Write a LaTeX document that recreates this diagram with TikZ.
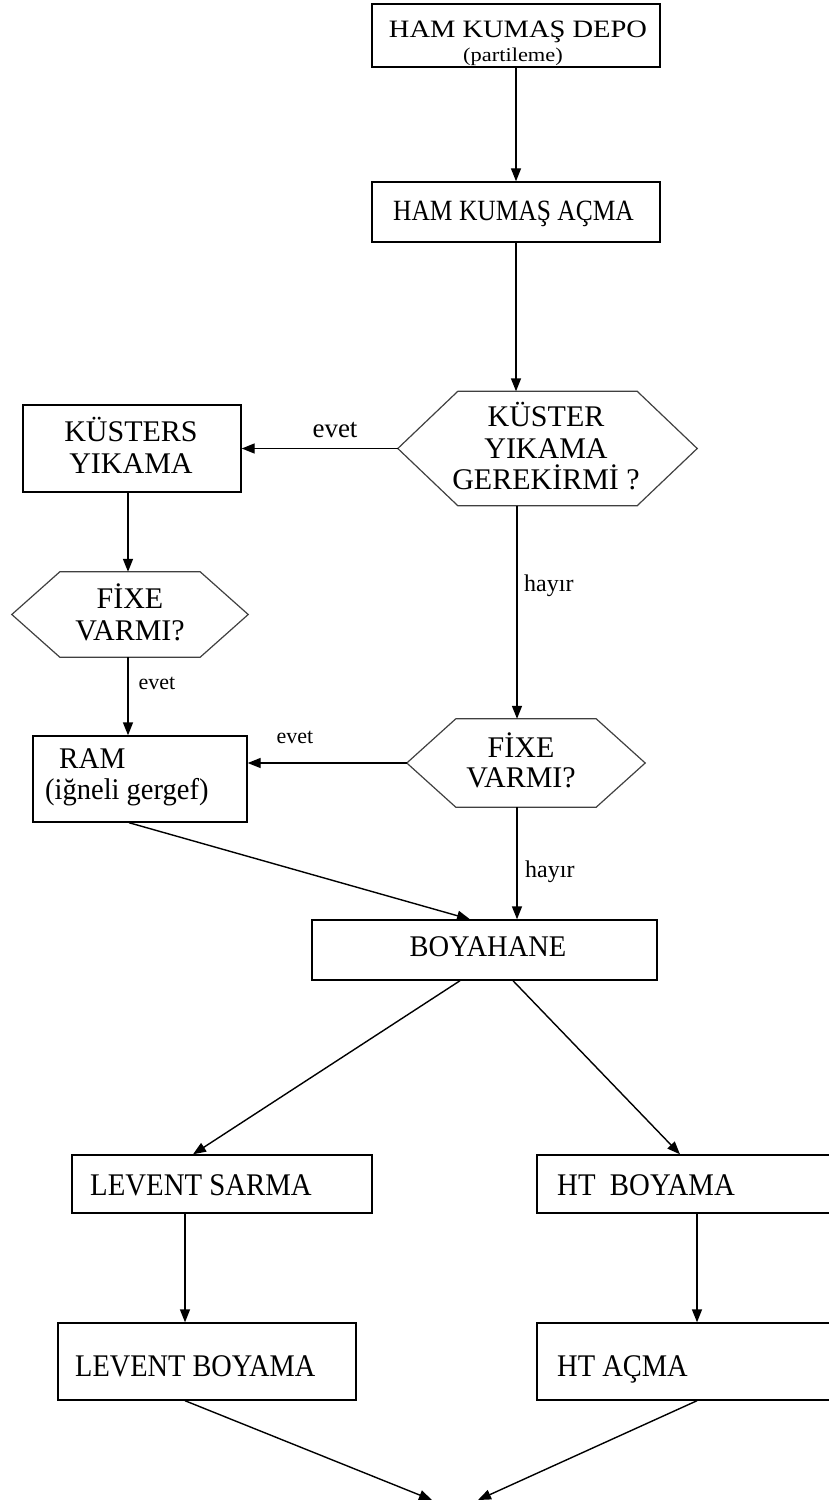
\documentclass[tikz,border=0pt]{standalone}
\usepackage{graphicx}
\usepackage{fontspec}
\setmainfont{Liberation Serif}
\usetikzlibrary{arrows.meta,calc}

\tikzset{
  box/.style={draw, line width=1.4pt, rectangle, inner sep=0pt},
  hexarea/.style={rectangle, inner sep=0pt, draw=none},
  hexline/.style={draw=black!75, line width=1.2pt, line join=miter},
  flow/.style={line width=1.4pt, -{Triangle[length=13pt,width=10pt]}},
  txt/.style={inner sep=0pt, anchor=base, font=\fontsize{30}{32}\selectfont},
  ltxt/.style={txt, anchor=base west},
  lbl/.style={inner sep=0pt, anchor=base, font=\fontsize{24}{26}\selectfont},
}

\newcommand{\hexagon}[2]{%
  \draw[hexline] (#1.west) -- ([xshift=#2]#1.north west) -- ([xshift=-#2]#1.north east)
    -- (#1.east) -- ([xshift=-#2]#1.south east) -- ([xshift=#2]#1.south west) -- cycle;}

\begin{document}
\begin{tikzpicture}[x=1pt, y=-1pt]
\useasboundingbox (0,0) rectangle (829,1506);
\clip (0,0) rectangle (829,1506);

% --- boxes ---
\node[box, minimum width=288pt, minimum height=63pt] (depo) at (516,35.5) {};
\node[txt, font=\fontsize{25}{27}\selectfont] (depoT) at (518,38) {\scalebox{1.14}[1]{HAM KUMAŞ DEPO}};
\node[txt, font=\fontsize{19.5}{21}\selectfont] (depoS) at (513,62) {\scalebox{1.15}[1]{(partileme)}};

\node[box, minimum width=288pt, minimum height=60pt] (acma) at (516,212) {};
\node[ltxt, font=\fontsize{28}{30}\selectfont] (acmaT) at (393,221) {\scalebox{0.91}[1.05]{HAM KUMAŞ AÇMA}};

% decision: washing needed?
\node[hexarea, minimum width=299pt, minimum height=114pt] (k1) at (547.5,448.5) {};
\hexagon{k1}{60pt}
\node[txt] (k1a) at (546,426) {KÜSTER};
\node[txt] (k1b) at (546,458) {YIKAMA};
\node[txt] (k1c) at (546,489) {GEREKİRMİ ?};

\node[box, minimum width=218pt, minimum height=87pt] (kus) at (132,448.5) {};
\node[txt] (kusA) at (131,441) {KÜSTERS};
\node[txt] (kusB) at (131,473) {YIKAMA};

% decision: fixing (left)
\node[hexarea, minimum width=236pt, minimum height=85pt] (f1) at (130,614.5) {};
\hexagon{f1}{48pt}
\node[txt] (f1a) at (130,608) {FİXE};
\node[txt] (f1b) at (130,640) {VARMI?};

\node[box, minimum width=214pt, minimum height=86pt] (ram) at (140,779) {};
\node[ltxt] (ramA) at (59,768) {\scalebox{0.97}[1]{RAM}};
\node[ltxt] (ramB) at (45,799) {\scalebox{0.95}[1]{(iğneli gergef)}};

% decision: fixing (right)
\node[hexarea, minimum width=238pt, minimum height=88pt] (f2) at (526,763) {};
\hexagon{f2}{49pt}
\node[txt] (f2a) at (521,757) {FİXE};
\node[txt] (f2b) at (521,787) {VARMI?};

\node[box, minimum width=345pt, minimum height=60pt] (boya) at (484.5,950) {};
\node[txt] (boyaT) at (488,956) {\scalebox{0.95}[1]{BOYAHANE}};

\node[box, minimum width=300pt, minimum height=58pt] (lsar) at (222,1184) {};
\node[ltxt] (lsarT) at (90,1195) {\scalebox{0.96}[1.05]{LEVENT SARMA}};

\node[box, minimum width=313pt, minimum height=58pt] (htb) at (693.5,1184) {};
\node[ltxt] (htbT) at (557,1195) {\scalebox{0.96}[1.05]{HT\ \ BOYAMA}};

\node[box, minimum width=298pt, minimum height=77pt] (lboy) at (207,1361.5) {};
\node[ltxt] (lboyT) at (75,1376) {\scalebox{0.945}[1.05]{LEVENT BOYAMA}};

\node[box, minimum width=313pt, minimum height=77pt] (hta) at (693.5,1361.5) {};
\node[ltxt] (htaT) at (557,1376) {\scalebox{0.95}[1.05]{HT AÇMA}};

\coordinate (endL) at (432,1500);
\coordinate (endR) at (478,1500);

% --- connectors ---
\draw[flow] (depo.south) -- (acma.north);
\draw[flow] (acma.south) -- (acma.south |- k1.north);
\draw[flow] (k1.west) -- (kus.east);
\node[lbl, font=\fontsize{27}{29}\selectfont] (e1) at (335,437) {evet};
\draw[flow] ([xshift=-4pt]kus.south) -- ([xshift=-4pt]kus.south |- f1.north);
\draw[flow] ([xshift=-2pt]f1.south) -- ([xshift=-2pt]f1.south |- ram.north);
\node[lbl, font=\fontsize{22}{24}\selectfont] (e2) at (157,689) {evet};
\draw[flow] ([xshift=-30.5pt]k1.south) -- ([xshift=-30.5pt]k1.south |- f2.north);
\node[lbl, anchor=base west] (h1) at (524,591) {hayır};
\draw[flow] (f2.west) -- (f2.west -| ram.east);
\node[lbl, font=\fontsize{22}{24}\selectfont] (e3) at (295,743) {evet};
\draw[flow] ([xshift=-9pt]f2.south) -- ([xshift=-9pt]f2.south |- boya.north);
\node[lbl, anchor=base west] (h2) at (525,877) {hayır};
\draw[flow] ([xshift=-11pt]ram.south) -- ([xshift=-14.5pt]boya.north);
\draw[flow] ([xshift=-24.5pt]boya.south) -- ([xshift=-29pt]lsar.north);
\draw[flow] ([xshift=28.5pt]boya.south) -- ([xshift=-13.5pt]htb.north);
\draw[flow] ([xshift=-37pt]lsar.south) -- ([xshift=-37pt]lsar.south |- lboy.north);
\draw[flow] ([xshift=3.5pt]htb.south) -- ([xshift=3.5pt]htb.south |- hta.north);
\draw[flow] ([xshift=-22pt]lboy.south) -- (endL);
\draw[flow] ([xshift=3.5pt]hta.south) -- (endR);
\end{tikzpicture}
\end{document}
